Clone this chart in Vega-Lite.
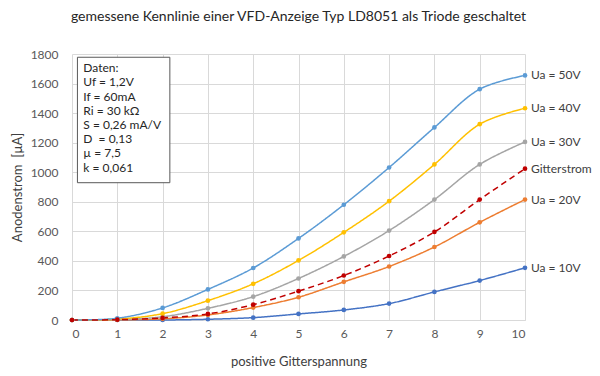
{
  "$schema": "https://vega.github.io/schema/vega-lite/v6.json",
  "autosize": {"type": "none"},
  "width": 453,
  "height": 266,
  "padding": {"left": 72, "top": 54, "right": 75, "bottom": 56},
  "background": "white",
  "config": {
    "font": "Lato",
    "view": {"stroke": null},
    "axis": {"labelFont": "Lato", "titleFont": "Lato", "labelColor": "#595959", "titleColor": "#404040", "labelFontSize": 12, "titleFontSize": 13, "titleFontWeight": "normal", "gridColor": "#D9D9D9", "ticks": false}
  },
  "title": {"text": "gemessene Kennlinie einer VFD-Anzeige Typ LD8051 als Triode geschaltet", "font": "Lato", "fontSize": 14, "fontWeight": "normal", "color": "#262626", "offset": 24, "anchor": "middle"},
  "data": {"values": [
    {"x": 0, "s": "Ua = 10V", "y": 0}, {"x": 1, "s": "Ua = 10V", "y": 0}, {"x": 2, "s": "Ua = 10V", "y": 0}, {"x": 3, "s": "Ua = 10V", "y": 5}, {"x": 4, "s": "Ua = 10V", "y": 16}, {"x": 5, "s": "Ua = 10V", "y": 41}, {"x": 6, "s": "Ua = 10V", "y": 68}, {"x": 7, "s": "Ua = 10V", "y": 111}, {"x": 8, "s": "Ua = 10V", "y": 190}, {"x": 9, "s": "Ua = 10V", "y": 267}, {"x": 10, "s": "Ua = 10V", "y": 353},
    {"x": 0, "s": "Ua = 20V", "y": 0}, {"x": 1, "s": "Ua = 20V", "y": 1}, {"x": 2, "s": "Ua = 20V", "y": 8}, {"x": 3, "s": "Ua = 20V", "y": 34}, {"x": 4, "s": "Ua = 20V", "y": 84}, {"x": 5, "s": "Ua = 20V", "y": 154}, {"x": 6, "s": "Ua = 20V", "y": 258}, {"x": 7, "s": "Ua = 20V", "y": 362}, {"x": 8, "s": "Ua = 20V", "y": 494}, {"x": 9, "s": "Ua = 20V", "y": 661}, {"x": 10, "s": "Ua = 20V", "y": 815},
    {"x": 0, "s": "Ua = 30V", "y": 0}, {"x": 1, "s": "Ua = 30V", "y": 3}, {"x": 2, "s": "Ua = 30V", "y": 22}, {"x": 3, "s": "Ua = 30V", "y": 79}, {"x": 4, "s": "Ua = 30V", "y": 158}, {"x": 5, "s": "Ua = 30V", "y": 281}, {"x": 6, "s": "Ua = 30V", "y": 430}, {"x": 7, "s": "Ua = 30V", "y": 605}, {"x": 8, "s": "Ua = 30V", "y": 815}, {"x": 9, "s": "Ua = 30V", "y": 1053}, {"x": 10, "s": "Ua = 30V", "y": 1205},
    {"x": 0, "s": "Ua = 40V", "y": 0}, {"x": 1, "s": "Ua = 40V", "y": 6}, {"x": 2, "s": "Ua = 40V", "y": 43}, {"x": 3, "s": "Ua = 40V", "y": 131}, {"x": 4, "s": "Ua = 40V", "y": 245}, {"x": 5, "s": "Ua = 40V", "y": 403}, {"x": 6, "s": "Ua = 40V", "y": 593}, {"x": 7, "s": "Ua = 40V", "y": 804}, {"x": 8, "s": "Ua = 40V", "y": 1053}, {"x": 9, "s": "Ua = 40V", "y": 1325}, {"x": 10, "s": "Ua = 40V", "y": 1433},
    {"x": 0, "s": "Ua = 50V", "y": 0}, {"x": 1, "s": "Ua = 50V", "y": 12}, {"x": 2, "s": "Ua = 50V", "y": 82}, {"x": 3, "s": "Ua = 50V", "y": 207}, {"x": 4, "s": "Ua = 50V", "y": 352}, {"x": 5, "s": "Ua = 50V", "y": 552}, {"x": 6, "s": "Ua = 50V", "y": 780}, {"x": 7, "s": "Ua = 50V", "y": 1032}, {"x": 8, "s": "Ua = 50V", "y": 1303}, {"x": 9, "s": "Ua = 50V", "y": 1562}, {"x": 10, "s": "Ua = 50V", "y": 1655},
    {"x": 0, "s": "Gitterstrom", "y": 0}, {"x": 1, "s": "Gitterstrom", "y": 2}, {"x": 2, "s": "Gitterstrom", "y": 14}, {"x": 3, "s": "Gitterstrom", "y": 41}, {"x": 4, "s": "Gitterstrom", "y": 104}, {"x": 5, "s": "Gitterstrom", "y": 195}, {"x": 6, "s": "Gitterstrom", "y": 301}, {"x": 7, "s": "Gitterstrom", "y": 433}, {"x": 8, "s": "Gitterstrom", "y": 596}, {"x": 9, "s": "Gitterstrom", "y": 815}, {"x": 10, "s": "Gitterstrom", "y": 1024}
  ]},
  "encoding": {
    "x": {"field": "x", "type": "quantitative", "scale": {"domain": [0, 10], "nice": false}, "axis": {"values": [0,1,2,3,4,5,6,7,8,9,10], "format": "d", "title": "positive Gitterspannung", "labelPadding": 8, "titlePadding": 16, "domainColor": "#D9D9D9", "grid": true}},
    "y": {"field": "y", "type": "quantitative", "scale": {"domain": [0, 1800], "nice": false}, "axis": {"values": [0,200,400,600,800,1000,1200,1400,1600,1800], "format": "d", "title": "Anodenstrom\u00a0 [µA]", "labelPadding": 14, "titlePadding": 6, "domain": false, "grid": true}},
    "color": {"field": "s", "type": "nominal", "legend": null, "scale": {"domain": ["Ua = 10V", "Ua = 20V", "Ua = 30V", "Ua = 40V", "Ua = 50V", "Gitterstrom"], "range": ["#4472C4", "#ED7D31", "#A5A5A5", "#FFC000", "#5B9BD5", "#C00000"]}}
  },
  "layer": [
    {"mark": {"type": "line", "interpolate": "catmull-rom", "strokeWidth": 1.5},
     "encoding": {"strokeDash": {"field": "s", "type": "nominal", "legend": null, "scale": {"domain": ["Ua = 10V", "Ua = 20V", "Ua = 30V", "Ua = 40V", "Ua = 50V", "Gitterstrom"], "range": [[1,0],[1,0],[1,0],[1,0],[1,0],[6,4]]}}}},
    {"mark": {"type": "point", "filled": true, "opacity": 1, "size": 22}},
    {"transform": [{"filter": "datum.x == 10"}],
     "mark": {"type": "text", "align": "left", "dx": 6, "baseline": "middle", "fontSize": 12, "font": "Lato"},
     "encoding": {"text": {"field": "s"}, "color": {"value": "#404040"}}},
    {"data": {"values": [{"x1": 0.12, "x2": 2.16, "y1": 929, "y2": 1778}]},
     "mark": {"type": "rect", "fill": "white", "stroke": "#595959", "strokeWidth": 1},
     "encoding": {"x": {"field": "x1", "type": "quantitative"}, "x2": {"field": "x2"}, "y": {"field": "y1", "type": "quantitative"}, "y2": {"field": "y2"}, "color": {"value": "white"}}},
    {"data": {"values": [
      {"tx": 0.25, "ty": 1705, "t": "Daten:"},
      {"tx": 0.25, "ty": 1608, "t": "Uf = 1,2V"},
      {"tx": 0.25, "ty": 1510, "t": "If = 60mA"},
      {"tx": 0.25, "ty": 1415, "t": "Ri = 30 kΩ"},
      {"tx": 0.25, "ty": 1320, "t": "S = 0,26 mA/V"},
      {"tx": 0.25, "ty": 1225, "t": "D\u00a0 = 0,13"},
      {"tx": 0.25, "ty": 1128, "t": "µ = 7,5"},
      {"tx": 0.25, "ty": 1030, "t": "k = 0,061"}
     ]},
     "mark": {"type": "text", "align": "left", "baseline": "middle", "fontSize": 12, "font": "Lato"},
     "encoding": {"x": {"field": "tx", "type": "quantitative"}, "y": {"field": "ty", "type": "quantitative"}, "text": {"field": "t"}, "color": {"value": "#262626"}}}
  ]
}
